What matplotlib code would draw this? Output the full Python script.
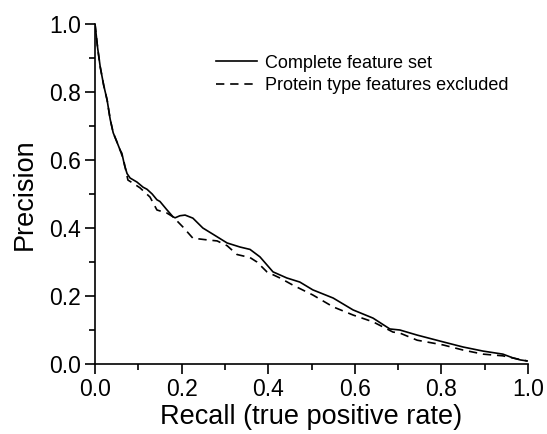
import matplotlib
matplotlib.use("Agg")
import matplotlib.pyplot as plt
from matplotlib.ticker import MultipleLocator, FormatStrFormatter

plt.rcParams['font.family'] = ['Liberation Sans', 'DejaVu Sans']

# Complete feature set
recall_full = [0.0, 0.006, 0.012, 0.02, 0.028, 0.035, 0.042, 0.05, 0.058, 0.062, 0.068, 0.074,
               0.081, 0.097, 0.111, 0.12, 0.132, 0.143, 0.15, 0.165, 0.18, 0.185, 0.196, 0.208,
               0.226, 0.249, 0.272, 0.305, 0.335, 0.358, 0.381, 0.411, 0.443, 0.473, 0.503,
               0.55, 0.596, 0.642, 0.681, 0.704, 0.744, 0.804, 0.85, 0.896, 0.942, 0.965,
               0.982, 0.998]
precision_full = [1.0, 0.93, 0.874, 0.82, 0.776, 0.72, 0.68, 0.655, 0.629, 0.62, 0.585, 0.56,
                  0.547, 0.535, 0.52, 0.514, 0.5, 0.483, 0.478, 0.455, 0.433, 0.43, 0.436, 0.438,
                  0.429, 0.4, 0.382, 0.356, 0.344, 0.337, 0.315, 0.271, 0.253, 0.241, 0.218,
                  0.194, 0.159, 0.135, 0.103, 0.1, 0.085, 0.065, 0.05, 0.038, 0.029, 0.018,
                  0.012, 0.009]

# Protein type features excluded
recall_excl = [0.0, 0.006, 0.012, 0.02, 0.028, 0.035, 0.042, 0.05, 0.058, 0.066, 0.076, 0.09,
               0.104, 0.127, 0.143, 0.166, 0.18, 0.203, 0.226, 0.259, 0.282, 0.305, 0.328,
               0.358, 0.374, 0.397, 0.427, 0.457, 0.503, 0.55, 0.596, 0.642, 0.688, 0.704,
               0.744, 0.804, 0.85, 0.896, 0.942, 0.975, 0.998]
precision_excl = [1.0, 0.93, 0.874, 0.82, 0.776, 0.72, 0.68, 0.655, 0.629, 0.6, 0.541, 0.53,
                  0.518, 0.491, 0.453, 0.444, 0.433, 0.403, 0.37, 0.365, 0.362, 0.348, 0.322,
                  0.313, 0.3, 0.271, 0.253, 0.232, 0.203, 0.168, 0.144, 0.124, 0.094, 0.091,
                  0.07, 0.056, 0.041, 0.029, 0.024, 0.015, 0.009]

labels = ["Complete feature set", "Protein type features excluded"]

fig = plt.figure(figsize=(5.47, 4.34), dpi=100)
ax = fig.add_axes([0.1737, 0.1613, 0.7916, 0.7834])
ax.plot(recall_full, precision_full, color='black', lw=1.2, ls='-', label=labels[0])
ax.plot(recall_excl, precision_excl, color='black', lw=1.2, ls=(0, (5, 3.5)), label=labels[1])

ax.set_xlim(0, 1.0)
ax.set_ylim(0, 1.0)
ax.xaxis.set_major_locator(MultipleLocator(0.2))
ax.yaxis.set_major_locator(MultipleLocator(0.2))
ax.xaxis.set_minor_locator(MultipleLocator(0.1))
ax.yaxis.set_minor_locator(MultipleLocator(0.1))
ax.xaxis.set_major_formatter(FormatStrFormatter('%.1f'))
ax.yaxis.set_major_formatter(FormatStrFormatter('%.1f'))
ax.tick_params(which='major', direction='out', length=7, width=1.2, labelsize=16.5, pad=3)
ax.tick_params(which='minor', direction='out', length=4, width=1.2)
for s in ['top', 'right']:
    ax.spines[s].set_visible(False)
for s in ['left', 'bottom']:
    ax.spines[s].set_linewidth(1.2)

ax.set_xlabel("Recall (true positive rate)", fontsize=19.5, labelpad=2)
ax.set_ylabel("Precision", fontsize=19.5, labelpad=8)

ax.legend(loc='upper left', bbox_to_anchor=(0.279, 0.91), frameon=False, fontsize=13,
          handlelength=2.3, handletextpad=0.4, labelspacing=0.3, borderpad=0,
          borderaxespad=0)

fig.savefig("out.png", dpi=100)
